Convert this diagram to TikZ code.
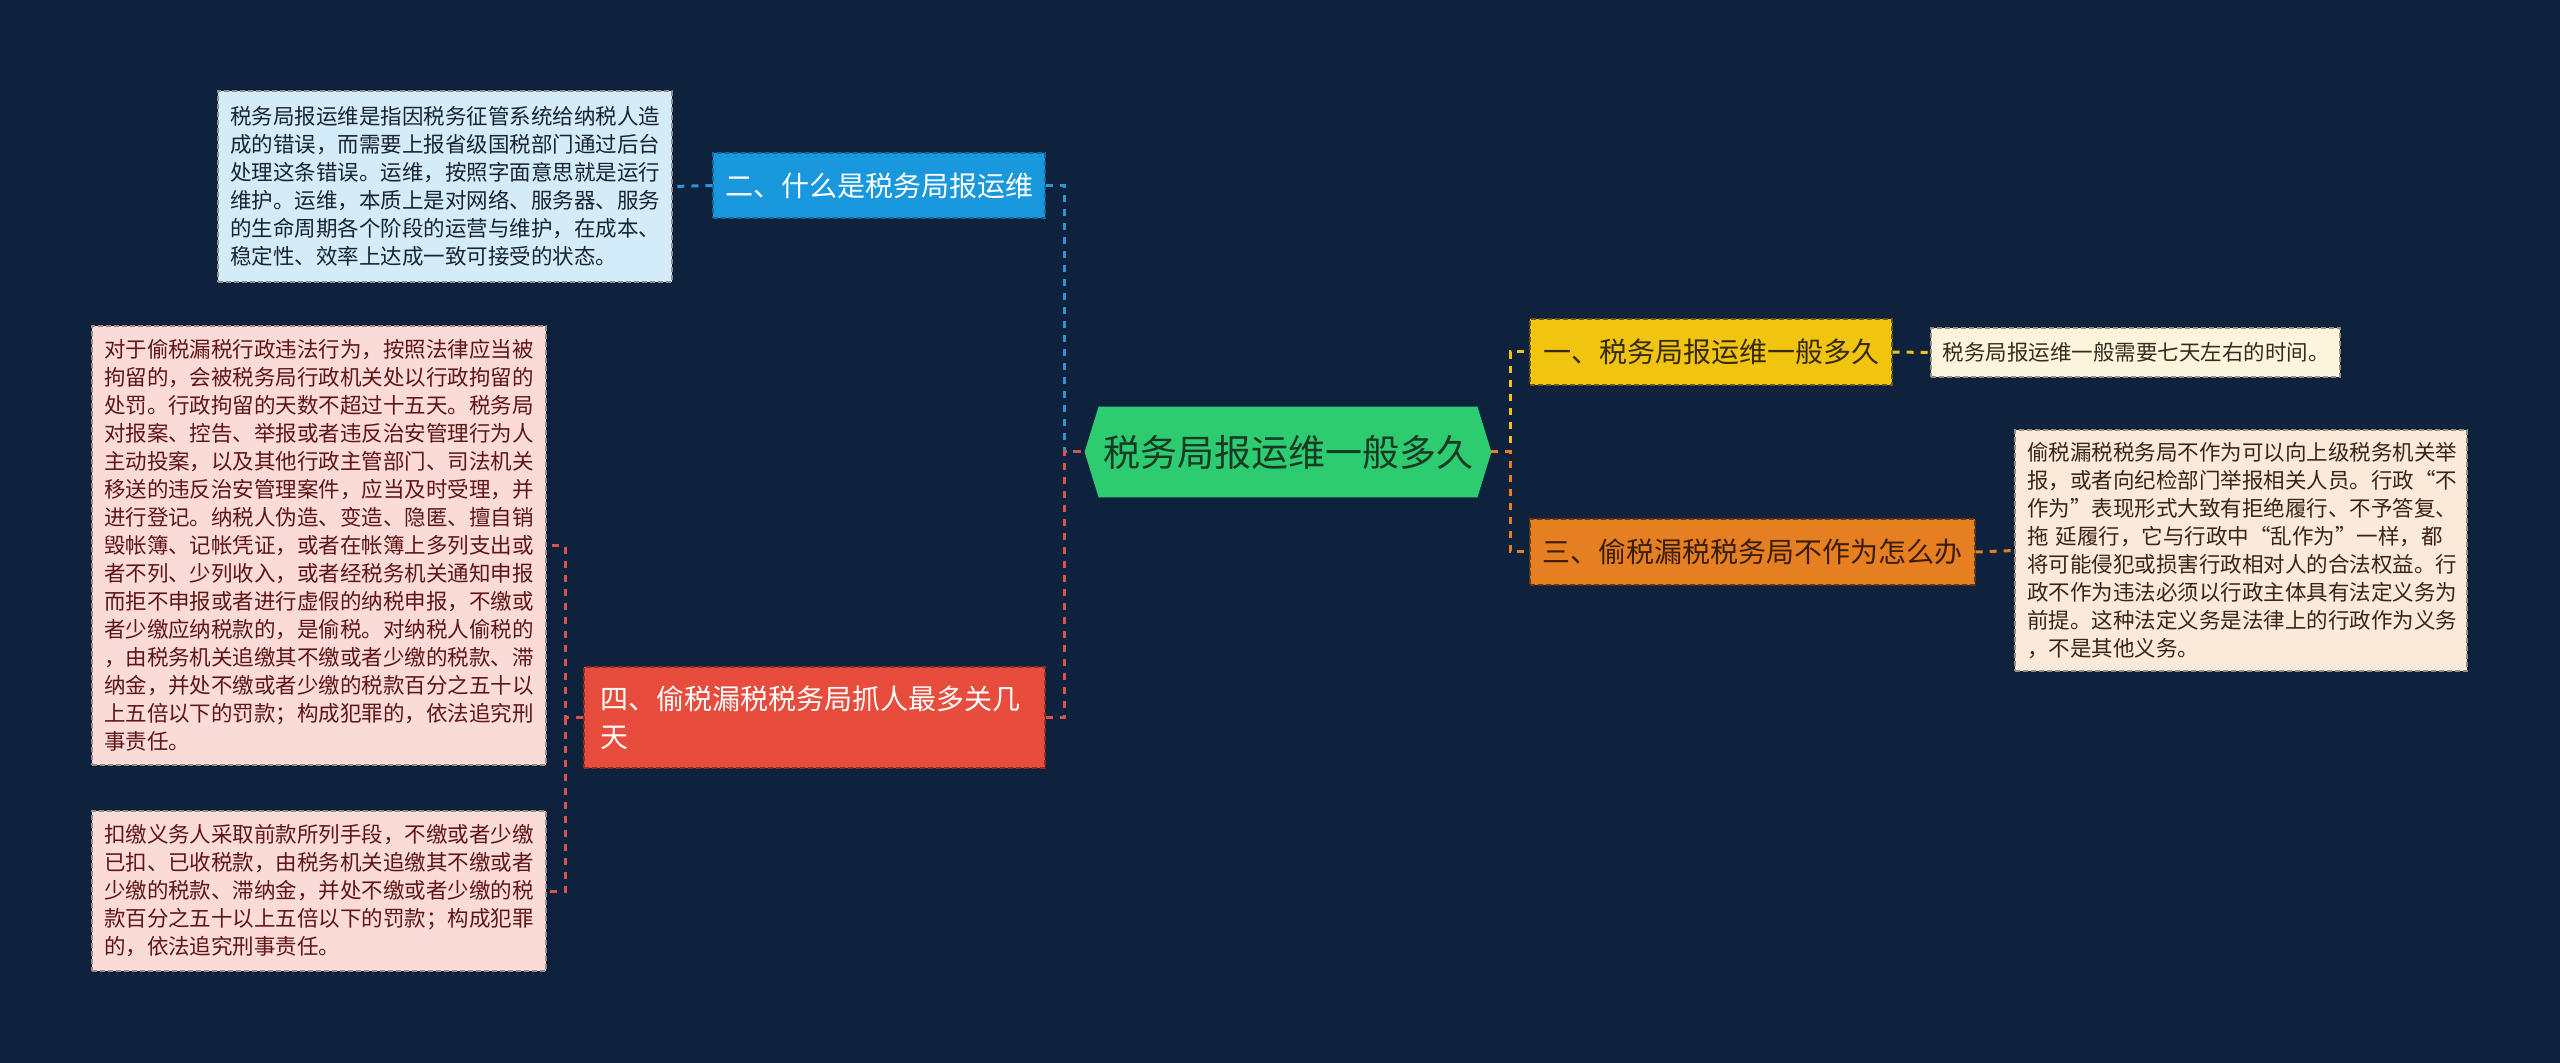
\documentclass[tikz,border=0pt]{standalone}
\usepackage{fontspec}
\setmainfont{Noto Sans CJK SC}
\usetikzlibrary{backgrounds}

\definecolor{bgnavy}{RGB}{15,34,61}
\definecolor{rootgreen}{RGB}{46,204,113}
\definecolor{rootink}{RGB}{22,58,36}
\definecolor{topicblue}{RGB}{26,152,222}
\definecolor{topicyellow}{RGB}{241,196,15}
\definecolor{topicorange}{RGB}{230,126,34}
\definecolor{topicred}{RGB}{231,76,60}
\definecolor{yellowink}{RGB}{55,42,8}
\definecolor{orangeink}{RGB}{58,30,8}
\definecolor{linkblue}{RGB}{44,148,214}
\definecolor{linkred}{RGB}{214,84,74}
\definecolor{leafblue}{RGB}{212,236,249}
\definecolor{leafcream}{RGB}{252,245,220}
\definecolor{leafpeach}{RGB}{251,233,218}
\definecolor{leafpink}{RGB}{250,219,216}
\definecolor{blueink}{RGB}{25,35,50}
\definecolor{creamink}{RGB}{50,45,30}
\definecolor{peachink}{RGB}{60,36,20}
\definecolor{pinkink}{RGB}{95,22,22}
\definecolor{leafline}{RGB}{150,140,130}

\begin{document}
\begin{tikzpicture}[x=0.5pt, y=-0.5pt,
  topic/.style={draw, dash pattern=on 2.5pt off 1.5pt, line width=0.7pt, inner sep=0pt,
    font=\fontsize{14pt}{19pt}\selectfont},
  leafbox/.style={draw=leafline, dash pattern=on 2.5pt off 1.5pt, line width=0.6pt,
    inner xsep=6pt, inner ysep=0pt, text width=215pt, align=left,
    font=\fontsize{10.75pt}{14pt}\selectfont},
  link/.style={line width=1.5pt, dash pattern=on 3.5pt off 3.5pt}]

% root
\node[font=\fontsize{18.5pt}{22pt}\selectfont, text=rootink, minimum width=203pt,
  minimum height=45pt, inner sep=0pt] (root) at (1288,452) {税务局报运维一般多久};
\begin{scope}[on background layer]
\fill[bgnavy] (0,0) rectangle (2560,1063);
\fill[rootgreen] ([xshift=7pt]root.north west) -- ([xshift=-7pt]root.north east) -- (root.east)
  -- ([xshift=-7pt]root.south east) -- ([xshift=7pt]root.south west) -- (root.west) -- cycle;
\end{scope}

% topics
\node[topic, fill=topicblue, draw=topicblue!70!black, text=white,
  minimum width=166pt, minimum height=32.5pt] (two) at (879,185.5) {二、什么是税务局报运维};
\node[topic, fill=topicyellow, draw=topicyellow!45!black, text=yellowink,
  minimum width=181pt, minimum height=33pt] (one) at (1711,352) {一、税务局报运维一般多久};
\node[topic, fill=topicorange, draw=topicorange!45!black, text=orangeink,
  minimum width=222.5pt, minimum height=33pt] (three) at (1752.5,552) {三、偷税漏税税务局不作为怎么办};
\node[topic, fill=topicred, draw=topicred!60!black, text=white, text width=214.5pt,
  align=left, inner xsep=8pt, minimum height=50.5pt] (four) at (814.5,717.5)
  {四、偷税漏税税务局抓人最多关几\\天};

% leaves
\node[leafbox, fill=leafblue, text=blueink, minimum height=95.5pt] (twoleaf) at (445,186.5)
  {税务局报运维是指因税务征管系统给纳税人造\\
   成的错误，而需要上报省级国税部门通过后台\\
   处理这条错误。运维，按照字面意思就是运行\\
   维护。运维，本质上是对网络、服务器、服务\\
   的生命周期各个阶段的运营与维护，在成本、\\
   稳定性、效率上达成一致可接受的状态。};
\node[leafbox, fill=leafcream, text=creamink, text width=193pt, inner xsep=5.75pt,
  minimum height=24.5pt] (oneleaf) at (2135.5,352.5) {税务局报运维一般需要七天左右的时间。};
\node[leafbox, fill=leafpeach, text=peachink, text width=214pt, minimum height=120.5pt]
  (threeleaf) at (2241,550.5)
  {偷税漏税税务局不作为可以向上级税务机关举\\
   报，或者向纪检部门举报相关人员。行政“不\\
   作为”表现形式大致有拒绝履行、不予答复、\\
   拖 延履行，它与行政中“乱作为”一样，都\\
   将可能侵犯或损害行政相对人的合法权益。行\\
   政不作为违法必须以行政主体具有法定义务为\\
   前提。这种法定义务是法律上的行政作为义务\\
   ，不是其他义务。};
\node[leafbox, fill=leafpink, text=pinkink, minimum height=219.5pt] (fourleafa) at (319,545.5)
  {对于偷税漏税行政违法行为，按照法律应当被\\
   拘留的，会被税务局行政机关处以行政拘留的\\
   处罚。行政拘留的天数不超过十五天。税务局\\
   对报案、控告、举报或者违反治安管理行为人\\
   主动投案，以及其他行政主管部门、司法机关\\
   移送的违反治安管理案件，应当及时受理，并\\
   进行登记。纳税人伪造、变造、隐匿、擅自销\\
   毁帐簿、记帐凭证，或者在帐簿上多列支出或\\
   者不列、少列收入，或者经税务机关通知申报\\
   而拒不申报或者进行虚假的纳税申报，不缴或\\
   者少缴应纳税款的，是偷税。对纳税人偷税的\\
   ，由税务机关追缴其不缴或者少缴的税款、滞\\
   纳金，并处不缴或者少缴的税款百分之五十以\\
   上五倍以下的罚款；构成犯罪的，依法追究刑\\
   事责任。};
\node[leafbox, fill=leafpink, text=pinkink, minimum height=80pt] (fourleafb) at (319,891)
  {扣缴义务人采取前款所列手段，不缴或者少缴\\
   已扣、已收税款，由税务机关追缴其不缴或者\\
   少缴的税款、滞纳金，并处不缴或者少缴的税\\
   款百分之五十以上五倍以下的罚款；构成犯罪\\
   的，依法追究刑事责任。};

% links
\coordinate (leftjoin) at (1064,452);
\coordinate (rightjoin) at (1510,452);
\coordinate (fourjoin) at (565,717.5);
\draw[link, linkblue] (two.east) -| (leftjoin) -- (root.west);
\draw[link, linkred] (four.east) -| (leftjoin) -- (root.west);
\draw[link, topicyellow] (root.east) -- (rightjoin) |- (one.west);
\draw[link, topicorange] (root.east) -- (rightjoin) |- (three.west);
\draw[link, linkblue] (two.west) -- (twoleaf.east);
\draw[link, topicyellow] (one.east) -- (oneleaf.west);
\draw[link, topicorange] (three.east) -- (threeleaf.west);
\draw[link, linkred] (four.west) -- (fourjoin) |- (fourleafa.east);
\draw[link, linkred] (fourjoin) |- (fourleafb.east);
\end{tikzpicture}
\end{document}
